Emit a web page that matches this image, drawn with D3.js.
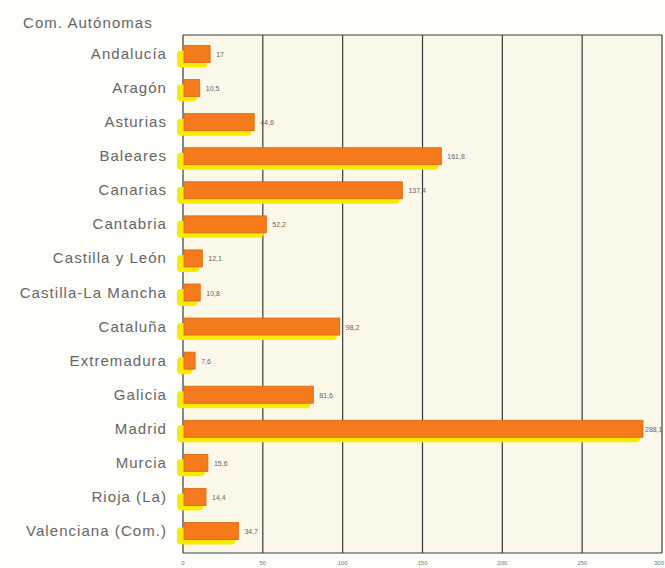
<!DOCTYPE html>
<html>
<head>
<meta charset="utf-8">
<script src="https://cdn.jsdelivr.net/npm/d3@7"></script>
<style>
  body { margin: 0; background: #fdfdfa; }
  text { font-family: "Liberation Sans", Arial, sans-serif; }
</style>
</head>
<body>
<svg id="chart"></svg>
<script>
const width = 665;
const height = 568;

const regions = ["Andalucía", "Aragón", "Asturias", "Baleares", "Canarias", "Cantabria",
  "Castilla y León", "Castilla-La Mancha", "Cataluña", "Extremadura", "Galicia",
  "Madrid", "Murcia", "Rioja (La)", "Valenciana (Com.)"];
const values = [17, 10.5, 44.6, 161.8, 137.4, 52.2, 12.1, 10.8, 98.2, 7.6, 81.6, 288.1, 15.6, 14.4, 34.7];
const ticks = [0, 50, 100, 150, 200, 250, 300];

const data = regions.map((r, i) => ({ region: r, value: values[i] }));

const svg = d3.select("#chart").attr("width", width).attr("height", height);

const x = d3.scaleLinear().domain([0, 300]).range([183, 662]);
const y = d3.scalePoint().domain(regions).range([54, 531]);

const plotTop = 35, plotBottom = 553;
const barH = 17;
const fmt = v => String(v).replace(".", ",");

// plot background
svg.append("rect")
  .attr("x", x(0)).attr("y", plotTop)
  .attr("width", x(300) - x(0)).attr("height", plotBottom - plotTop)
  .attr("fill", "#fbf8ea");

// grid lines
svg.selectAll("line.grid")
  .data(ticks)
  .join("line")
  .attr("class", "grid")
  .attr("x1", d => x(d)).attr("x2", d => x(d))
  .attr("y1", plotTop).attr("y2", plotBottom)
  .attr("stroke", "#3a3a3a")
  .attr("stroke-width", 1.2);

svg.append("line")
  .attr("x1", x(0)).attr("x2", x(300))
  .attr("y1", plotTop).attr("y2", plotTop)
  .attr("stroke", "#3a3a3a").attr("stroke-width", 1.2);

svg.append("line")
  .attr("x1", x(0)).attr("x2", x(300))
  .attr("y1", plotBottom).attr("y2", plotBottom)
  .attr("stroke", "#3a3a3a").attr("stroke-width", 1.2);

// yellow shadow
svg.selectAll("rect.shadow")
  .data(data)
  .join("rect")
  .attr("class", "shadow")
  .attr("x", x(0) - 6)
  .attr("y", d => y(d.region) - barH / 2 + 5)
  .attr("width", d => x(d.value) - x(0) + 3)
  .attr("height", barH)
  .attr("rx", 4)
  .attr("fill", "#f8ea00");

// orange bars
svg.selectAll("rect.bar")
  .data(data)
  .join("rect")
  .attr("class", "bar")
  .attr("x", x(0) + 1)
  .attr("y", d => y(d.region) - barH / 2)
  .attr("width", d => x(d.value) - x(0) - 1)
  .attr("height", barH)
  .attr("fill", "#f47a1c")
  .attr("stroke", "#dc640e")
  .attr("stroke-width", 0.8);

// value labels
svg.selectAll("text.val")
  .data(data)
  .join("text")
  .attr("class", "val")
  .attr("x", d => Math.min(x(d.value) + 6, 645))
  .attr("y", d => y(d.region) + 3)
  .attr("font-size", 7)
  .attr("fill", "#666")
  .text(d => fmt(d.value));

// category labels
svg.selectAll("text.cat")
  .data(regions)
  .join("text")
  .attr("class", "cat")
  .attr("x", 167)
  .attr("y", d => y(d) + 5)
  .attr("text-anchor", "end")
  .attr("font-size", 15)
  .attr("letter-spacing", 1.05)
  .attr("fill", "#666")
  .text(d => d);

// x tick labels
svg.selectAll("text.tick")
  .data(ticks)
  .join("text")
  .attr("class", "tick")
  .attr("x", d => d === 300 ? 664 : x(d))
  .attr("y", 565)
  .attr("text-anchor", d => d === 300 ? "end" : "middle")
  .attr("font-size", 6)
  .attr("fill", "#777")
  .text(d => d);

svg.append("text")
  .attr("x", 23)
  .attr("y", 28)
  .attr("font-size", 15)
  .attr("letter-spacing", 1.05)
  .attr("fill", "#666")
  .text("Com. Autónomas");
</script>
</body>
</html>
